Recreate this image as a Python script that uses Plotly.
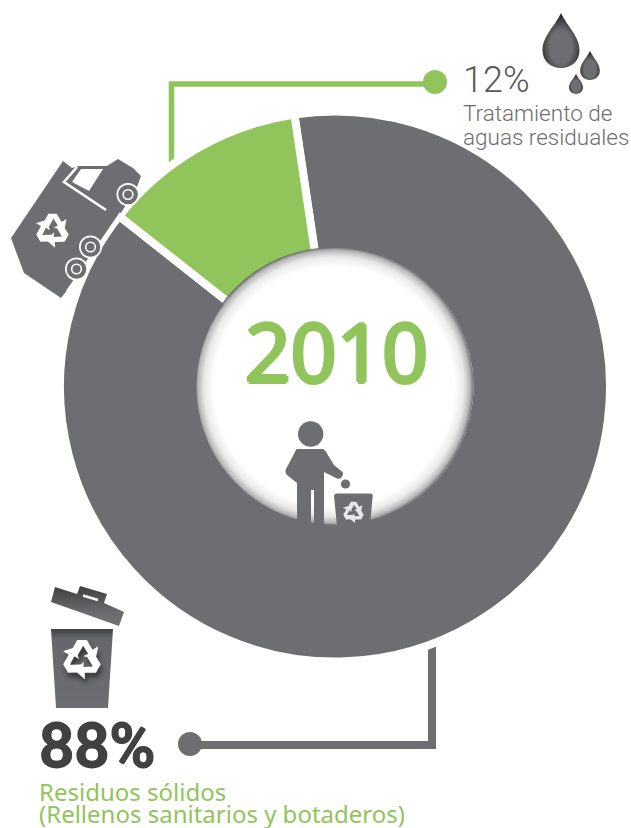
import base64
import plotly.graph_objects as go

W, H = 631, 828
labels = ["Residuos sólidos", "Tratamiento de aguas residuales"]
values = [88, 12]
colors = ["#6D6E71", "#92C45C"]
GRAY, GREEN, DARK = "#6D6E71", "#92C45C", "#414042"
year = "2010"
pct_small = "12%"
pct_big = "88%"
desc_small = ["Tratamiento de", "aguas residuales"]
desc_big = ["Residuos sólidos", "(Rellenos sanitarios y botaderos)"]

CX, CY, R_DOMAIN = 335, 386.5, 275
ROTATION = -8.5
HOLE_VISIBLE = 138.5
GAP = 8


def recycle(cx, cy, r, fill="#ffffff"):
    arrow = "M-.62,-.12 L-.22,-.86 L.22,-.86 L.48,-.42 L.74,-.58 L.62,.0 L.06,-.12 L.28,-.24 L.05,-.6 L-.22,-.12 Z"
    parts = "".join(
        f'<path d="{arrow}" transform="rotate({a})" fill="{fill}"/>' for a in (0, 120, 240)
    )
    return f'<g transform="translate({cx},{cy}) scale({r})">{parts}</g>'


def drop(tip_x, tip_y, bot_y, half, grad):
    h = bot_y - tip_y
    return (
        f'<path d="M{tip_x},{tip_y} C{tip_x+half*.35},{tip_y+h*.25} {tip_x+half},{tip_y+h*.42} {tip_x+half},{tip_y+h*.68} '
        f'C{tip_x+half},{bot_y-h*.13} {tip_x+half*.55},{bot_y} {tip_x},{bot_y} '
        f'C{tip_x-half*.55},{bot_y} {tip_x-half},{bot_y-h*.13} {tip_x-half},{tip_y+h*.68} '
        f'C{tip_x-half},{tip_y+h*.42} {tip_x-half*.35},{tip_y+h*.25} {tip_x},{tip_y} Z" fill="url(#{grad})"/>'
    )


def wheel(x, y):
    return (
        f'<circle cx="{x}" cy="{y}" r="11.5" fill="#fff"/><circle cx="{x}" cy="{y}" r="9.8" fill="{GRAY}"/>'
        f'<circle cx="{x}" cy="{y}" r="5.6" fill="#fff"/><circle cx="{x}" cy="{y}" r="4" fill="{GRAY}"/>'
    )


svg = f'''<svg xmlns="http://www.w3.org/2000/svg" width="{W}" height="{H}" viewBox="0 0 {W} {H}">
<defs>
<radialGradient id="hole" gradientUnits="userSpaceOnUse" cx="{CX-1}" cy="{CY}" r="{HOLE_VISIBLE+1}">
<stop offset="0.86" stop-color="{GRAY}" stop-opacity="0"/>
<stop offset="0.93" stop-color="{GRAY}" stop-opacity=".15"/>
<stop offset="0.975" stop-color="{GRAY}" stop-opacity=".5"/>
<stop offset="1" stop-color="{GRAY}" stop-opacity="1"/>
</radialGradient>
<radialGradient id="dr" cx=".5" cy=".62" r=".55">
<stop offset="0.55" stop-color="#6D6E71"/><stop offset="1" stop-color="#2f2f31"/>
</radialGradient>
<linearGradient id="lid" x1="0" y1="0" x2="0" y2="1">
<stop offset="0" stop-color="#3f3f41"/><stop offset=".7" stop-color="#6D6E71"/>
</linearGradient>
<linearGradient id="bin" x1="0" y1="0" x2="0" y2="1">
<stop offset="0" stop-color="#3f3f41"/><stop offset=".12" stop-color="#66676a"/><stop offset="1" stop-color="#6D6E71"/>
</linearGradient>
<filter id="sh" x="-30%" y="-30%" width="160%" height="160%"><feGaussianBlur stdDeviation="2.5"/></filter>
</defs>
<circle cx="{CX-1}" cy="{CY}" r="{HOLE_VISIBLE+1}" fill="url(#hole)"/>
<!-- person -->
<circle cx="310.7" cy="434" r="12.7" fill="{GRAY}"/>
<path d="M297,449 L323,449 Q325,450 326,452 L334,465 L342.5,472 Q344,475 341,478 L338,479 L324,472 L324,526 L314,526 L314,490 L311,490 L311,526 L297,526 L297,483 L287,475 Q284.5,472 286,469 L295,452 Q296,449 297,449 Z" fill="{GRAY}"/>
<circle cx="345.5" cy="484" r="4.6" fill="{GRAY}"/>
<path d="M336,493.5 L371,493.5 Q373,494 372.7,496 L370,526 L337,526 L334,496 Q334,494 336,493.5 Z" fill="{GRAY}"/>
{recycle(353.5, 512, 12, "#e8e8e8")}
<!-- truck -->
<path d="M11,238 L63,161 L72,168 L79,166 L107,166 L118,159 L133,168 L141,176 L137,187 L121,213 L69,288 L61,298 L24,273 Z" fill="{GRAY}"/>
<path d="M121,213 L67,292" stroke="#fff" stroke-width="3" fill="none"/>
<path d="M77,167 L64,182 L106,210" stroke="#fff" stroke-width="2.6" fill="none"/>
<path d="M81,169 L103,169 L89,191 L72,182 Z" fill="#fff"/>
{wheel(128,194.5)}{wheel(90.5,247)}{wheel(76.5,269)}
{recycle(52.5, 230, 19)}
<!-- drops -->
{drop(561,13,68,18.5,"dr")}
{drop(590,51,80,9.8,"dr")}
{drop(576,74,94,7,"dr")}
<!-- bin -->
<path d="M55,587 L77,594 L80,586 L107,594 L104,603 L124,612 L119,626 L51,602 Z" fill="url(#lid)"/>
<path d="M83,595.5 L98,600" stroke="#fff" stroke-width="2.4"/>
<path d="M51,629 L113,629 L108,708 L56,708 Z" fill="url(#bin)"/>
<g filter="url(#sh)" transform="translate(2,5)">{recycle(82,659,22,"#38383a")}</g>
{recycle(82,659,22)}
</svg>'''
uri = "data:image/svg+xml;base64," + base64.b64encode(svg.encode()).decode()


def px(x):
    return x / W


def py(y):
    return 1 - y / H


fig = go.Figure(
    go.Pie(
        labels=labels,
        values=values,
        sort=False,
        direction="clockwise",
        rotation=ROTATION,
        hole=(HOLE_VISIBLE - GAP / 2) / R_DOMAIN,
        textinfo="none",
        hoverinfo="label+percent",
        showlegend=False,
        marker=dict(colors=colors, line=dict(color="#ffffff", width=GAP)),
        domain=dict(
            x=[px(CX - R_DOMAIN), px(CX + R_DOMAIN)],
            y=[py(CY + R_DOMAIN), py(CY - R_DOMAIN)],
        ),
    )
)


def line(pts, color, width):
    d = "M" + " L".join(f"{px(x)},{py(y)}" for x, y in pts)
    return dict(type="path", xref="paper", yref="paper", path=d, layer="below",
                line=dict(color=color, width=width), fillcolor="rgba(0,0,0,0)")


def dot(x, y, r, color):
    return dict(type="circle", xref="paper", yref="paper", x0=px(x - r), x1=px(x + r),
                y0=py(y + r), y1=py(y - r), fillcolor=color, line=dict(width=0), layer="above")


shapes = [
    line([(171.5, 172), (171.5, 84), (435, 84)], GREEN, 5.5),
    line([(432, 640), (432, 745), (190, 745)], GRAY, 8),
    dot(435, 82, 12, GREEN),
    dot(190, 744, 12, GRAY),
]


def thicken(color, d):
    return ",".join(f"{x}px {y}px 0 {color}" for x, y in ((d, 0), (-d, 0), (0, d), (0, -d)))


def text(s, x, y, size, color, weight=400, anchor="left", family="Lato", shadow="none"):
    return dict(text=s, x=px(x), y=py(y), xref="paper", yref="paper", xanchor=anchor, yanchor="middle",
                showarrow=False, font=dict(family=family, size=size, color=color, weight=weight, shadow=shadow),
                borderpad=0, borderwidth=0)


annotations = [
    text(year, 336, 350, 80, GREEN, 400, "center", "Open Sans", thicken(GREEN, 2)),
    text(pct_small, 463, 80, 36, "#58595B", 300, family="Roboto"),
    text(desc_small[0], 463, 113, 22.5, "#6D6E71", 300, family="Roboto"),
    text(desc_small[1], 463, 137, 22.5, "#6D6E71", 300, family="Roboto"),
    text(pct_big, 39, 745, 62, DARK, 500, family="Roboto", shadow=thicken(DARK, 1)),
    text(desc_big[0], 39, 791, 24, GREEN, 400, family="Noto Sans"),
    text(desc_big[1], 39, 813, 24, GREEN, 400, family="Noto Sans"),
]

fig.update_layout(
    width=W, height=H, autosize=False,
    margin=dict(l=0, r=0, t=0, b=0),
    paper_bgcolor="#ffffff",
    shapes=shapes,
    annotations=annotations,
    images=[dict(source=uri, xref="paper", yref="paper", x=0, y=1, sizex=1, sizey=1,
                 xanchor="left", yanchor="top", sizing="stretch", layer="above")],
)
fig.write_html("out.html", config=dict(displayModeBar=False),
               post_script="document.body.style.margin='0';document.body.style.overflow='hidden';")
